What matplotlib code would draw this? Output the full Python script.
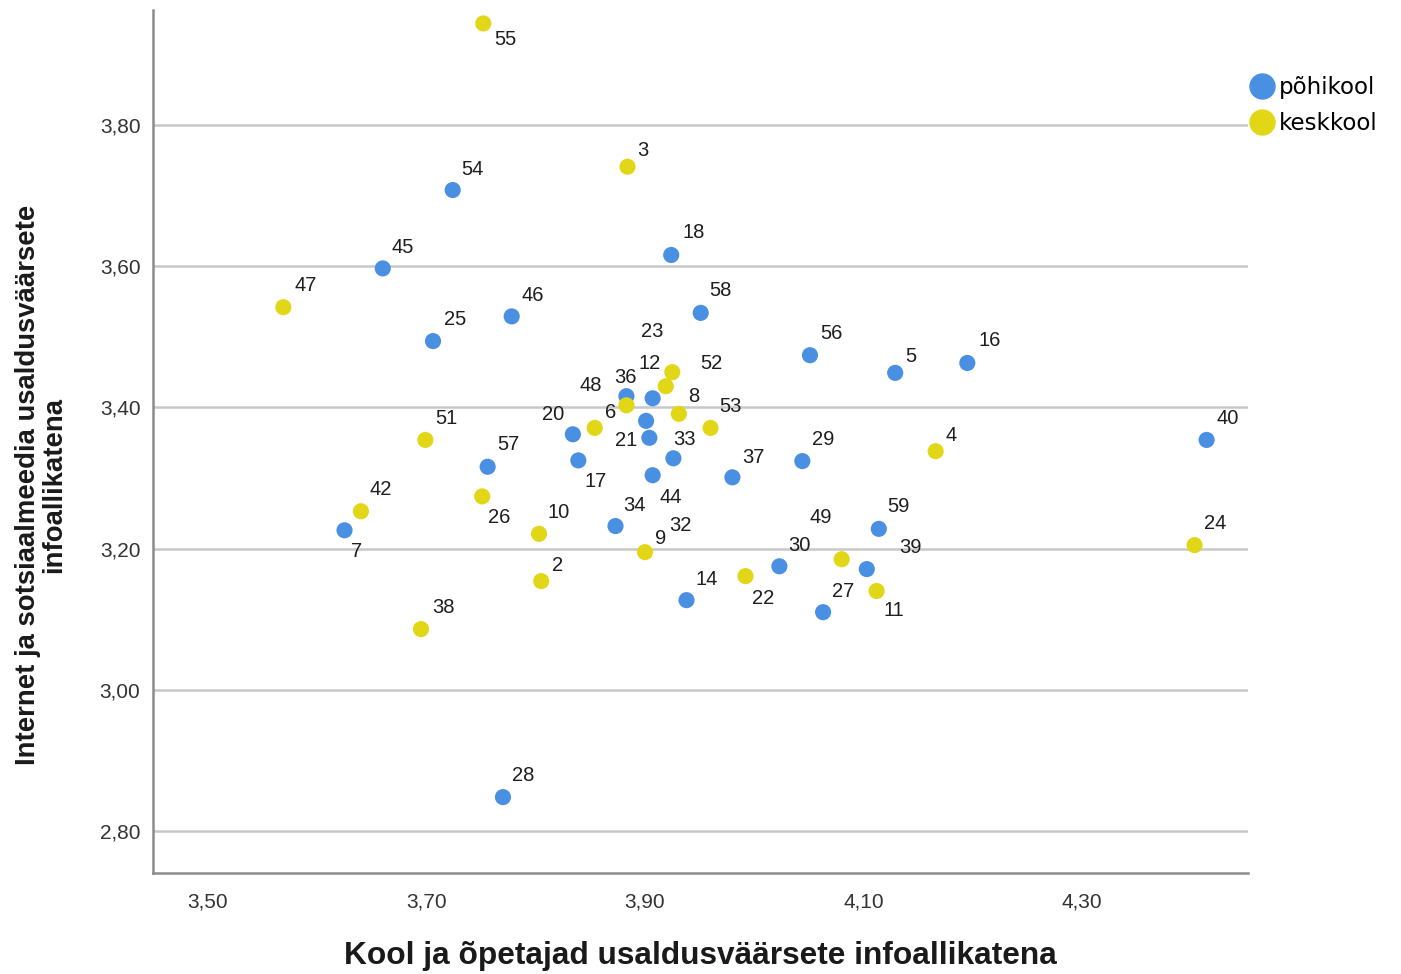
import matplotlib
matplotlib.use('Agg')
import matplotlib.pyplot as plt
from matplotlib.lines import Line2D

# === ANDMED ===
# põhikool (sinine)
pohi_id = [54, 45, 18, 46, 25, 58, 56, 5, 16, 40, 57, 7, 36, 23, 32, 20, 21, 17,
           33, 44, 37, 29, 34, 59, 30, 39, 14, 27, 28]
pohi_x = [3.724, 3.660, 3.924, 3.778, 3.706, 3.951, 4.051, 4.129, 4.195, 4.414,
          3.756, 3.625, 3.883, 3.907, 3.901, 3.834, 3.904, 3.839, 3.926, 3.907,
          3.980, 4.044, 3.873, 4.114, 4.023, 4.103, 3.938, 4.063, 3.770]
pohi_y = [3.708, 3.597, 3.616, 3.529, 3.494, 3.534, 3.474, 3.449, 3.463, 3.354,
          3.316, 3.226, 3.416, 3.413, 3.381, 3.362, 3.357, 3.325, 3.328, 3.304,
          3.301, 3.324, 3.232, 3.228, 3.175, 3.171, 3.127, 3.110, 2.848]

# keskkool (kollane)
kesk_id = [55, 3, 47, 51, 42, 26, 10, 2, 38, 52, 12, 48, 8, 6, 53, 9, 22, 49,
           11, 4, 24]
kesk_x = [3.752, 3.884, 3.569, 3.699, 3.640, 3.751, 3.803, 3.805, 3.695, 3.925,
          3.919, 3.883, 3.931, 3.854, 3.960, 3.900, 3.992, 4.080, 4.112, 4.166,
          4.403]
kesk_y = [3.944, 3.741, 3.542, 3.354, 3.253, 3.274, 3.221, 3.154, 3.086, 3.450,
          3.430, 3.403, 3.391, 3.371, 3.371, 3.195, 3.161, 3.185, 3.140, 3.338,
          3.205]

x_ticks = [3.50, 3.70, 3.90, 4.10, 4.30]
y_ticks = [2.80, 3.00, 3.20, 3.40, 3.60, 3.80]

# sildi nihe pikslites (dx paremale, dy üles)
silt_nihe = {
    54: (20, 21), 45: (20, 21), 18: (22, 22), 46: (21, 21), 25: (22, 22),
    58: (20, 22), 56: (21, 22), 5: (16, 16), 16: (22, 22), 40: (21, 21),
    57: (21, 22), 7: (12, -21), 36: (-1, 19), 23: (0, 67), 32: (34, -105),
    20: (-20, 20), 21: (-23, -3), 17: (17, -21), 33: (11, 19), 44: (18, -22),
    37: (21, 20), 29: (21, 22), 34: (19, 21), 59: (20, 22), 30: (20, 21),
    39: (44, 22), 14: (20, 21), 27: (20, 21), 28: (20, 22),
    55: (22, -16), 3: (15, 16), 47: (22, 22), 51: (21, 21), 42: (20, 22),
    26: (17, -21), 10: (20, 21), 2: (16, 16), 38: (22, 22), 52: (39, 9),
    12: (-16, 23), 48: (-36, 20), 8: (15, 17), 6: (16, 15), 53: (20, 21),
    9: (16, 14), 22: (18, -22), 49: (-21, 42), 11: (17, -20), 4: (15, 16),
    24: (21, 22),
}

sinine = '#4A90E2'
kollane = '#E2D716'

# === JOONIS ===
fig = plt.figure(figsize=(14.01, 9.74), dpi=100)
ax = fig.add_axes([0.1092, 0.1037, 0.7816, 0.886])

for y in y_ticks:
    ax.axhline(y, color='#c8c8c8', lw=1.8, zorder=0)

ax.scatter(pohi_x, pohi_y, s=135, color=sinine, edgecolors='none', zorder=3)
ax.scatter(kesk_x, kesk_y, s=135, color=kollane, edgecolors='none', zorder=3)

for ids, xs, ys in [(pohi_id, pohi_x, pohi_y), (kesk_id, kesk_x, kesk_y)]:
    for i, x, y in zip(ids, xs, ys):
        dx, dy = silt_nihe[i]
        ax.annotate(str(i), (x, y), xytext=(dx, dy), textcoords='offset pixels',
                    ha='center', va='center', fontsize=14.5,
                    family='Liberation Sans', color='#1e1e1e', zorder=4)

ax.set_xlim(3.4497, 4.4519)
ax.set_ylim(2.7405, 3.963)
ax.set_xticks(x_ticks)
ax.set_yticks(y_ticks)
ax.set_xticklabels([f'{v:.2f}'.replace('.', ',') for v in x_ticks],
                   family='Liberation Sans', fontsize=15)
ax.set_yticklabels([f'{v:.2f}'.replace('.', ',') for v in y_ticks],
                   family='Liberation Sans', fontsize=15)
ax.tick_params(axis='both', length=0, colors='#333333')
ax.tick_params(axis='x', pad=14)
ax.tick_params(axis='y', pad=9)

for s in ['top', 'right']:
    ax.spines[s].set_visible(False)
for s in ['left', 'bottom']:
    ax.spines[s].set_color('#8c8c8c')
    ax.spines[s].set_linewidth(1.8)

fig.text(700 / 1401, 1 - 956 / 974,
         'Kool ja õpetajad usaldusväärsete infoallikatena',
         family='Liberation Sans', fontweight='bold', fontsize=22.8,
         ha='center', va='center', color='#1a1a1a')
fig.text(41 / 1401, 1 - 485 / 974,
         'Internet ja sotsiaalmeedia usaldusväärsete\ninfoallikatena',
         family='Liberation Sans', fontweight='bold', fontsize=19.8,
         ha='center', va='center', rotation=90, multialignment='center',
         linespacing=1.0, color='#1a1a1a')

kasitsi = [Line2D([], [], marker='o', ls='none', markersize=18, color=sinine,
                  label='põhikool'),
           Line2D([], [], marker='o', ls='none', markersize=18, color=kollane,
                  label='keskkool')]
fig.legend(handles=kasitsi, loc='upper left', bbox_to_anchor=(0.891, 0.922),
           frameon=False, prop={'family': 'DejaVu Sans', 'size': 16.5},
           handletextpad=0.15, labelspacing=0.55, handlelength=1.2,
           borderaxespad=0, borderpad=0)

fig.savefig('out.png', dpi=100)
